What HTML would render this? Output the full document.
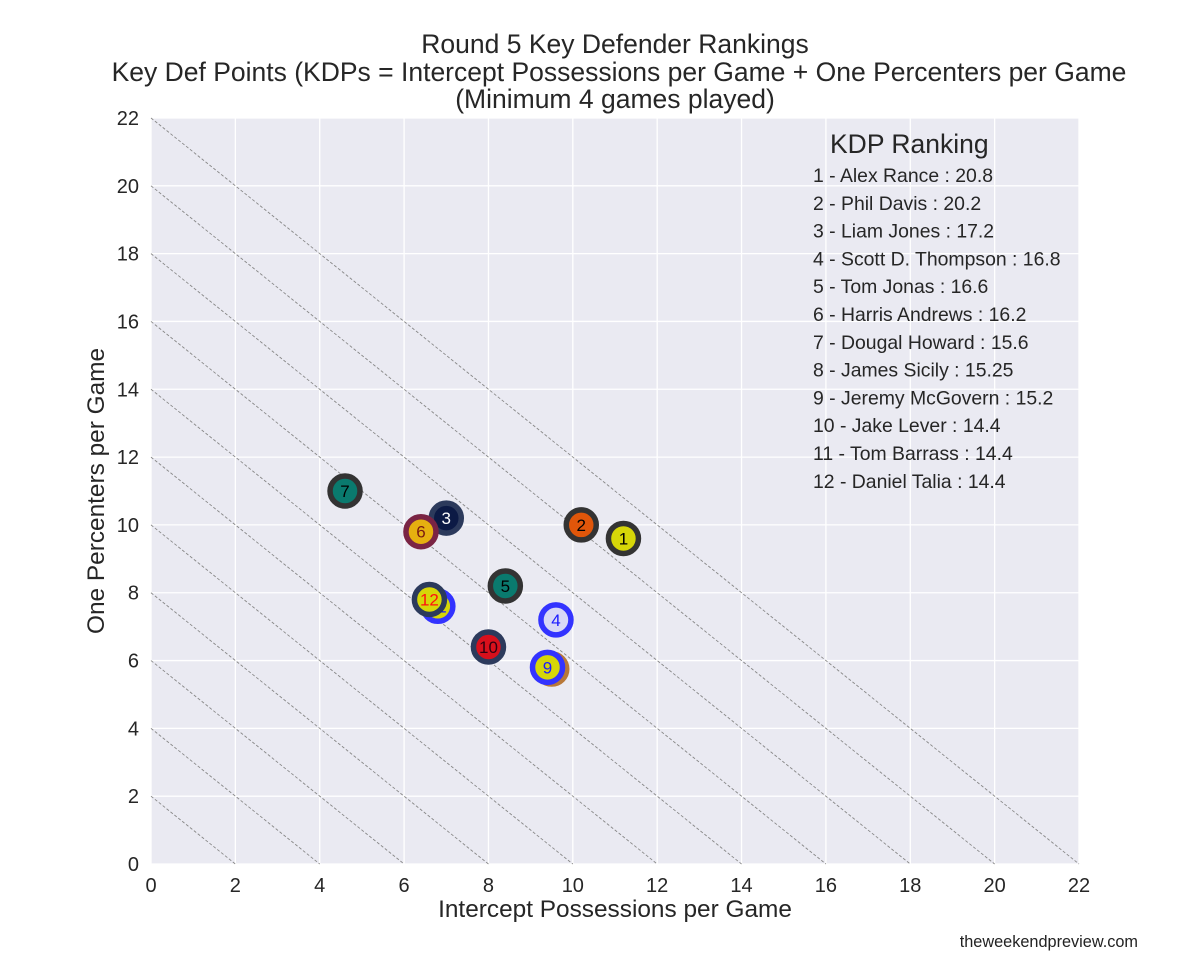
<!DOCTYPE html>
<html><head><meta charset="utf-8"><style>
body{margin:0;background:#fff;}
svg text{font-family:"Liberation Sans",Arial,sans-serif;}
</style></head><body>
<svg id="chart" width="1200" height="971" xmlns="http://www.w3.org/2000/svg">
<g id="titles" fill="#262626" font-size="26.5" text-anchor="middle">
<text x="615" y="53">Round 5 Key Defender Rankings</text>
<text x="619" y="81">Key Def Points (KDPs = Intercept Possessions per Game + One Percenters per Game</text>
<text x="615" y="108">(Minimum 4 games played)</text>
</g>
<rect x="151" y="118" width="928" height="746" fill="#eaeaf2"/>
<g id="grid"></g>
<g id="diag"></g>
<g id="ticks"></g>
<g id="legend"></g>
<g id="points"></g>
<text x="615" y="917" font-size="24.4" fill="#262626" text-anchor="middle">Intercept Possessions per Game</text>
<text transform="translate(104,491) rotate(-90)" font-size="24.4" fill="#262626" text-anchor="middle">One Percenters per Game</text>
<text x="1138" y="947" font-size="16.3" fill="#222" text-anchor="end">theweekendpreview.com</text>
</svg>
<script>
const ranks=[1,2,3,4,5,6,7,8,9,10,11,12];
const names=["Alex Rance","Phil Davis","Liam Jones","Scott D. Thompson","Tom Jonas","Harris Andrews","Dougal Howard","James Sicily","Jeremy McGovern","Jake Lever","Tom Barrass","Daniel Talia"];
const kdps=["20.8","20.2","17.2","16.8","16.6","16.2","15.6","15.25","15.2","14.4","14.4","14.4"];
const interceptVals=[11.2,10.2,7.0,9.6,8.4,6.4,4.6,9.5,9.4,8.0,6.8,6.6];
const onePctVals=[9.6,10.0,10.2,7.2,8.2,9.8,11.0,5.75,5.8,6.4,7.6,7.8];
const fills=["#d6d608","#e0560a","#0c1a45","#d8d8f6","#0a7a6e","#e6b010","#0a7a6e","#d6d608","#d6d608","#d8101c","#d6d608","#d6d608"];
const edges=["#333333","#333333","#2c3a5c","#3333ff","#333333","#7a2444","#333333","#b87838","#3333ff","#2c3a5c","#3333ff","#2c3a5c"];
const textCols=["#000","#000","#fff","#1a1aff","#000","#7a1a10","#000","#a05a20","#1a1aff","#300010","#1a1aff","#ff1010"];
const drawOrder=[0,1,2,3,4,5,6,7,8,9,10,11];
const ticks=[0,2,4,6,8,10,12,14,16,18,20,22];
const NS="http://www.w3.org/2000/svg";
const X0=151,X1=1079,Y0=864,Y1=118,DMAX=22;
const sx=v=>X0+(X1-X0)*v/DMAX, sy=v=>Y0-(Y0-Y1)*v/DMAX;
function mk(tag,attrs,parent){const e=document.createElementNS(NS,tag);for(const k in attrs)e.setAttribute(k,attrs[k]);parent.appendChild(e);return e;}
const grid=document.getElementById('grid'),tk=document.getElementById('ticks'),dg=document.getElementById('diag');
ticks.forEach(t=>{
  let l=mk('line',{x1:sx(t),x2:sx(t),y1:Y1,y2:Y0,stroke:'#fff','stroke-width':1.3},grid);
  
  
  l=mk('line',{x1:X0,x2:X1,y1:sy(t),y2:sy(t),stroke:'#fff','stroke-width':1.3},grid);
  
  
  let a=mk('text',{x:sx(t),y:Y0+28,'font-size':20,fill:'#262626','text-anchor':'middle'},tk);a.textContent=t;
  
  
  let b=mk('text',{x:X0-12,y:sy(t)+7,'font-size':20,fill:'#262626','text-anchor':'end'},tk);b.textContent=t;
  
  
  if(t>0){
    let d=mk('line',{x1:sx(0),y1:sy(t),x2:sx(t),y2:sy(0),stroke:'#888','stroke-width':0.9,'stroke-dasharray':'3,2'},dg);
    
    
  }
});
const lg=document.getElementById('legend');
let lt=mk('text',{x:830,y:153,'font-size':26.5,fill:'#262626'},lg);lt.textContent='KDP Ranking';


ranks.forEach((r,i)=>{
  let e=mk('text',{x:813,y:182+i*27.8,'font-size':19.4,fill:'#262626'},lg);
  e.textContent=r+' - '+names[i]+' : '+kdps[i];
  
  
});
const pg=document.getElementById('points');
drawOrder.forEach(i=>{
  const g=mk('g',{},pg);
  
  
  const cx=sx(interceptVals[i]),cy=sy(onePctVals[i]);
  mk('circle',{cx:cx,cy:cy,r:15,fill:fills[i],stroke:edges[i],'stroke-width':5.5},g);
  const t=mk('text',{x:cx,y:cy+6,'font-size':17,fill:textCols[i],'text-anchor':'middle'},g);
  t.textContent=ranks[i];
});
</script>
</body></html>
